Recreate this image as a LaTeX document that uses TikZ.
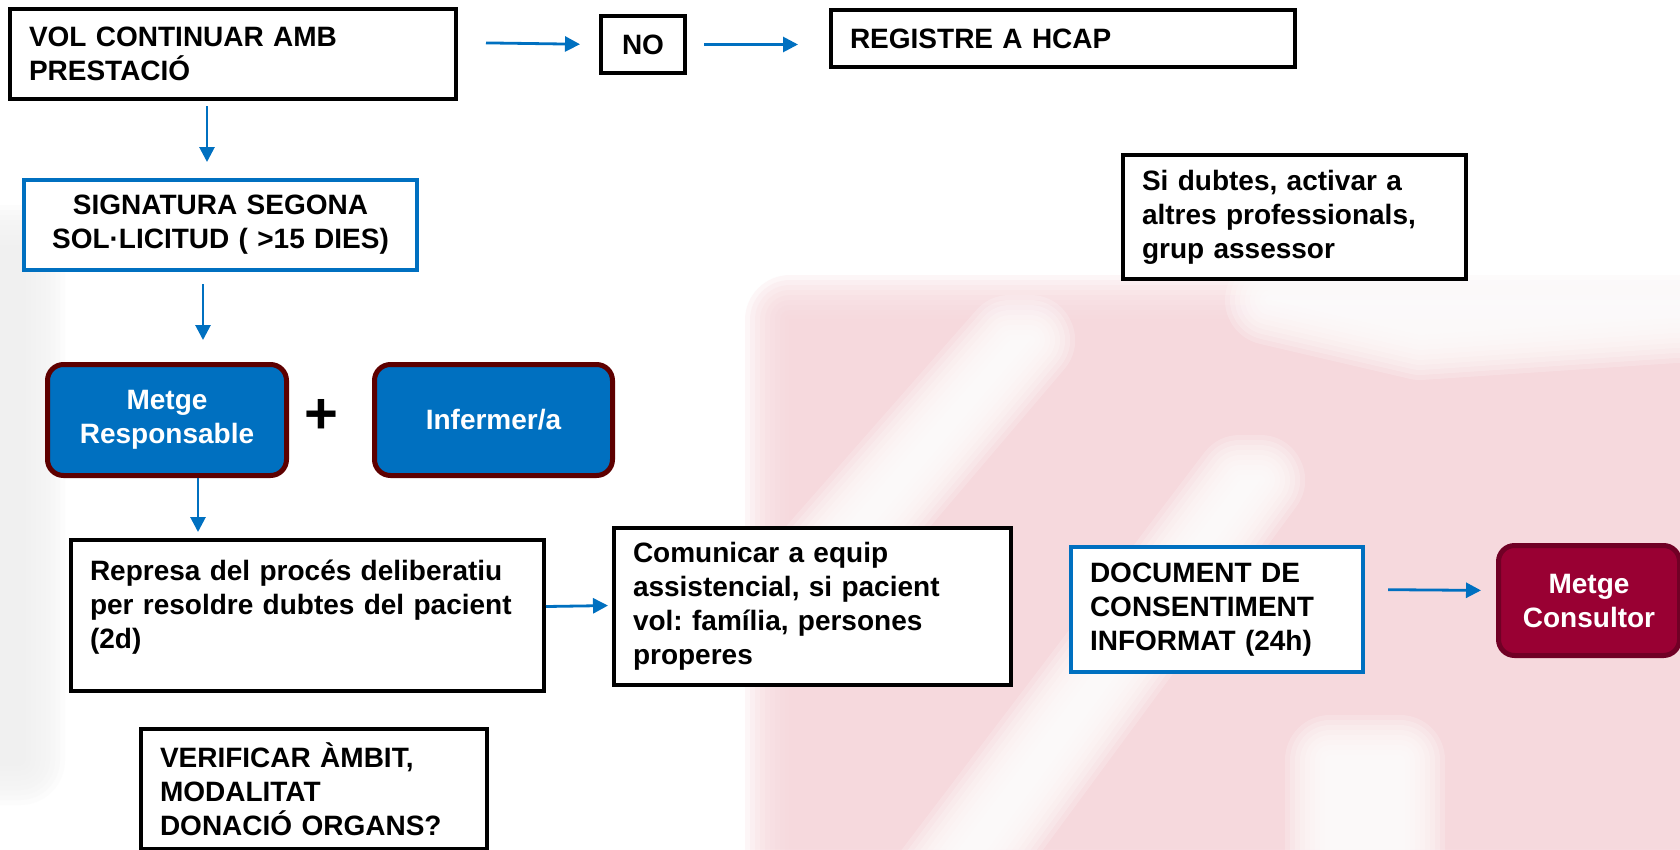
\documentclass[tikz,border=0pt]{standalone}
\usepackage{fontspec}
\setmainfont{Liberation Sans}
\usetikzlibrary{arrows.meta,calc}
\frenchspacing
\definecolor{myblue}{HTML}{0070C0}
\definecolor{maroonb}{HTML}{5E0000}
\definecolor{crim}{HTML}{990033}
\definecolor{crimb}{HTML}{700025}
\definecolor{wmpink}{RGB}{246,214,219}
\definecolor{wmgray}{RGB}{240,240,240}
\newcommand\softpath[2]{%
  \foreach \w in {90,80,70,60,50,40,30,20,10,0.1} {%
    \begin{scope}[transparency group, opacity=0.2]
      \filldraw[#1, line width=\w pt, line join=round] #2;
    \end{scope}}}
\tikzset{
  lbl/.style={font=\fontsize{28}{34}\selectfont\bfseries},
  bbox/.style={lbl, draw=black, line width=4pt, fill=white, anchor=north west, inner xsep=19pt, inner ysep=0pt, align=left},
  blbox/.style={bbox, draw=myblue},
  rbox/.style={lbl, rounded corners=16pt, line width=5pt, anchor=north west, align=center, text=white, inner sep=0pt},
  arr/.style={draw=myblue, line width=2.8pt, -{Triangle[length=15pt,width=15pt]}},
}
\begin{document}
\begin{tikzpicture}[x=1pt,y=-1pt]
\useasboundingbox (0,0) rectangle (1680,849);
\fill[white] (0,0) rectangle (1680,849);
% faint watermark
\softpath{wmgray}{(-40,250) -- (20,250) -- (20,760) -- (-40,760) -- cycle}
\softpath{wmpink}{(790,320) -- (1720,320) -- (1720,900) -- (790,900) -- cycle}
\softpath{white}{(790,590) -- (1010,340) -- (1030,340) -- (800,610) -- cycle}
\softpath{white}{(920,900) -- (1240,480) -- (1260,480) -- (950,900) -- cycle}
\softpath{white}{(1330,760) -- (1400,760) -- (1400,900) -- (1330,900) -- cycle}
\softpath{white}{(1270,300) -- (1720,300) -- (1720,315) -- (1420,335) -- cycle}
% boxes
\node[bbox, text width=408pt, minimum height=90pt] (vol) at (8,7) {VOL CONTINUAR AMB\\PRESTACIÓ};
\node[bbox, align=center, inner xsep=0pt, minimum width=84pt, minimum height=57pt] (no) at (599,14) {NO};
\node[bbox, text width=426pt, minimum height=57pt] (reg) at (829,8) {REGISTRE A HCAP};
\node[blbox, align=center, text width=355pt, minimum height=90pt] (sig) at (22,178) {SIGNATURA SEGONA\\SOL·LICITUD ( >15 DIES)};
\node[rbox, draw=maroonb, fill=myblue, minimum width=239pt, minimum height=111pt] (mr) at (45,362) {Metge\\Responsable};
\node[lbl, font=\fontsize{58}{60}\selectfont\bfseries, inner sep=0pt] (plus) at (321,416) {+};
\node[rbox, draw=maroonb, fill=myblue, minimum width=238pt, minimum height=111pt] (inf) at (372,362) {Infermer/a};
\node[bbox, text width=435pt, minimum height=151pt] (rep) at (69,538) {Represa del procés deliberatiu\\per resoldre dubtes del pacient\\(2d)\\[-12pt]~};
\node[bbox, text width=359pt, minimum height=157pt] (com) at (612,526) {Comunicar a equip\\assistencial, si pacient\\vol: família, persones\\properes};
\node[bbox, text width=308pt, minimum height=120pt] (ver) at (139,727) {VERIFICAR ÀMBIT,\\MODALITAT\\DONACIÓ ORGANS?};
\node[bbox, text width=305pt, minimum height=124pt] (dub) at (1121,153) {Si dubtes, activar a\\altres professionals,\\grup assessor};
\node[blbox, text width=254pt, minimum height=125pt] (doc) at (1069,545) {DOCUMENT DE\\CONSENTIMENT\\INFORMAT (24h)};
\node[rbox, draw=crimb, fill=crim, minimum width=181pt, minimum height=110pt] (mc) at (1496,543) {Metge\\Consultor};
% connectors
\draw[arr, shorten <=28pt, shorten >=19pt] ($(vol.east |- no.west)+(0,-2)$) -- (no.west);
\draw[arr, shorten <=17pt, shorten >=31pt] (no.east) -- (no.east -| reg.west);
\draw[arr, shorten <=5pt, shorten >=16pt] ([xshift=-26pt]vol.south) -- ([xshift=-26pt]vol.south |- sig.north);
\draw[arr, shorten <=12pt, shorten >=22pt] ([xshift=-17.5pt]sig.south) -- ([xshift=-17.5pt]sig.south |- mr.north);
\draw[arr, shorten >=6pt] ([xshift=31pt]mr.south) -- ([xshift=31pt]mr.south |- rep.north);
\draw[arr, shorten >=4pt] ($(rep.east)+(0,-9)$) -- ($(com.west)+(0,-1)$);
\draw[arr, shorten <=23pt, shorten >=15pt] ($(doc.east)+(0,-20)$) -- ($(mc.west)+(0,-10)$);
\end{tikzpicture}
\end{document}
